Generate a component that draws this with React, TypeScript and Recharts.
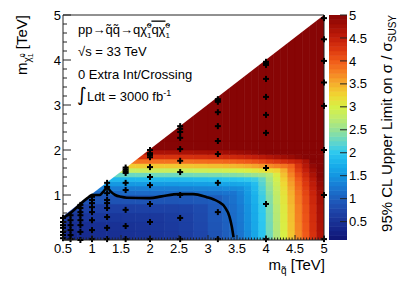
import React from 'react';
import { ComposedChart, XAxis, YAxis, ReferenceArea, Line, Scatter, Area } from 'recharts';

const W = 399;
const H = 286;
// axes are 1px thick so the plot area is 63..324 x 15..240
const PLOT_MARGIN = { top: 14, right: 74, bottom: 45, left: 62 };
const HEAT_MARGIN = { top: 15, right: 75, bottom: 46, left: 63 };
const BAR_MARGIN = { top: 15, right: 51, bottom: 46, left: 329 };
const FONT = '"Liberation Sans", Arial, Helvetica, sans-serif';

// ---- heat map grid (cell edges, TeV) ----
const xEdges = [0.5, 0.75, 1.0, 1.25, 1.5, 1.75, 2.0, 2.25, 2.5, 2.75, 3.0, 3.25, 3.375, 3.5, 3.625, 3.75, 3.875, 4.0, 4.125, 4.25, 4.375, 4.5, 4.625, 4.75, 4.875, 5.0];
const yEdges = [0, 0.2, 0.4, 0.6, 0.8, 1.0, 1.1, 1.2, 1.3, 1.4, 1.5, 1.6, 1.7, 1.8, 1.9, 2.0, 2.2, 5.0];
const N = null;
// upper limit on sigma/sigma_SUSY per cell (rows bottom -> top)
const heatValues: (number | null)[][] = [
  [0.38, 0.41, 0.44, 0.46, 0.48, 0.51, 0.54, 0.58, 0.64, 0.74, 0.88, 0.99, 1.08, 1.21, 1.41, 1.66, 1.96, 2.31, 2.66, 3.01, 3.36, 3.71, 4.01, 4.31, 4.66],
  [0.44, 0.45, 0.46, 0.48, 0.50, 0.53, 0.56, 0.60, 0.66, 0.76, 0.90, 1.01, 1.10, 1.23, 1.43, 1.68, 1.98, 2.33, 2.68, 3.03, 3.38, 3.73, 4.03, 4.33, 4.68],
  [0.54, 0.55, 0.56, 0.56, 0.56, 0.57, 0.58, 0.62, 0.68, 0.78, 0.92, 1.03, 1.12, 1.25, 1.45, 1.70, 2.00, 2.35, 2.70, 3.05, 3.40, 3.75, 4.05, 4.35, 4.70],
  [0.66, 0.67, 0.68, 0.68, 0.68, 0.69, 0.70, 0.70, 0.72, 0.80, 0.94, 1.05, 1.14, 1.27, 1.47, 1.72, 2.02, 2.37, 2.72, 3.07, 3.42, 3.77, 4.07, 4.37, 4.72],
  [N, 0.87, 0.88, 0.88, 0.88, 0.89, 0.90, 0.90, 0.92, 0.94, 0.98, 1.09, 1.18, 1.31, 1.51, 1.76, 2.06, 2.41, 2.76, 3.11, 3.46, 3.81, 4.11, 4.41, 4.76],
  [N, 1.09, 1.10, 1.10, 1.10, 1.11, 1.12, 1.12, 1.14, 1.16, 1.18, 1.21, 1.22, 1.35, 1.55, 1.80, 2.10, 2.45, 2.80, 3.15, 3.50, 3.85, 4.15, 4.45, 4.80],
  [N, N, 1.28, 1.28, 1.28, 1.29, 1.30, 1.30, 1.32, 1.34, 1.36, 1.39, 1.40, 1.43, 1.59, 1.84, 2.14, 2.49, 2.84, 3.19, 3.54, 3.89, 4.19, 4.49, 4.84],
  [N, N, 1.53, 1.53, 1.53, 1.54, 1.55, 1.55, 1.57, 1.59, 1.61, 1.64, 1.65, 1.68, 1.72, 1.89, 2.19, 2.54, 2.89, 3.24, 3.59, 3.94, 4.24, 4.54, 4.89],
  [N, N, N, 1.83, 1.83, 1.84, 1.85, 1.85, 1.87, 1.89, 1.91, 1.94, 1.95, 1.98, 2.02, 2.07, 2.25, 2.60, 2.95, 3.30, 3.65, 4.00, 4.30, 4.60, 4.95],
  [N, N, N, 2.28, 2.28, 2.29, 2.30, 2.30, 2.32, 2.34, 2.36, 2.39, 2.40, 2.43, 2.47, 2.52, 2.58, 2.69, 3.04, 3.39, 3.74, 4.09, 4.39, 4.69, 5.0],
  [N, N, N, 2.83, 2.83, 2.84, 2.85, 2.85, 2.87, 2.89, 2.91, 2.94, 2.95, 2.98, 3.02, 3.07, 3.13, 3.20, 3.27, 3.50, 3.85, 4.20, 4.50, 4.80, 5.0],
  [N, N, N, N, 3.33, 3.34, 3.35, 3.35, 3.37, 3.39, 3.41, 3.44, 3.45, 3.48, 3.52, 3.57, 3.63, 3.70, 3.77, 3.84, 3.95, 4.30, 4.60, 4.90, 5.0],
  [N, N, N, N, 3.83, 3.84, 3.85, 3.85, 3.87, 3.89, 3.91, 3.94, 3.95, 3.98, 4.02, 4.07, 4.13, 4.20, 4.27, 4.34, 4.41, 4.48, 4.70, 5.0, 5.0],
  [N, N, N, N, N, 4.29, 4.30, 4.30, 4.32, 4.34, 4.36, 4.39, 4.40, 4.43, 4.47, 4.52, 4.58, 4.65, 4.72, 4.79, 4.86, 4.93, 5.0, 5.0, 5.0],
  [N, N, N, N, N, 4.69, 4.70, 4.70, 4.72, 4.74, 4.76, 4.79, 4.80, 4.83, 4.87, 4.92, 4.98, 5.0, 5.0, 5.0, 5.0, 5.0, 5.0, 5.0, 5.0],
  [N, N, N, N, N, 5.0, 5.0, 5.0, 5.0, 5.0, 5.0, 5.0, 5.0, 5.0, 5.0, 5.0, 5.0, 5.0, 5.0, 5.0, 5.0, 5.0, 5.0, 5.0, 5.0],
  [N, N, N, N, N, N, 5.0, 5.0, 5.0, 5.0, 5.0, 5.0, 5.0, 5.0, 5.0, 5.0, 5.0, 5.0, 5.0, 5.0, 5.0, 5.0, 5.0, 5.0, 5.0],
];

// kinematic boundary (no signal points above it)
const boundaryX = [0.5, 5.0];
const boundaryY = [0.53, 5.0];

// observed exclusion contour (limit = 1)
const contourX = [0.52, 0.65, 0.79, 0.92, 1.0, 1.13, 1.2, 1.26, 1.32, 1.4, 1.5, 1.6, 2.0, 2.2, 2.5, 2.75, 2.98, 3.1, 3.18, 3.29, 3.37, 3.41, 3.44];
const contourY = [0.5, 0.62, 0.79, 0.93, 1.0, 1.0, 1.08, 1.17, 1.08, 1.0, 0.96, 0.94, 0.93, 0.97, 1.02, 1.02, 0.95, 0.9, 0.85, 0.73, 0.52, 0.3, 0.06];

// signal grid points
const pointColumnsX = [0.5, 0.63, 0.8, 1.0, 1.26, 1.58, 2.0, 2.52, 3.17, 4.0, 5.0];
const pointColumnsY = [
  [0.04, 0.11, 0.18, 0.27, 0.33, 0.4, 0.49],
  [0.02, 0.11, 0.22, 0.33, 0.44, 0.55],
  [0.0, 0.18, 0.33, 0.44, 0.55, 0.62, 0.71, 0.78],
  [0.02, 0.22, 0.44, 0.62, 0.73, 0.82, 0.89, 0.96],
  [0.02, 0.27, 0.51, 0.71, 0.82, 0.89, 1.04, 1.18, 1.27],
  [0.02, 0.31, 0.67, 1.11, 1.27, 1.49, 1.53, 1.57, 1.61],
  [0.02, 0.4, 0.8, 1.22, 1.4, 1.62, 1.84, 1.89, 1.93, 2.0],
  [0.02, 0.49, 1.0, 1.51, 1.76, 2.02, 2.27, 2.4, 2.47, 2.53],
  [0.02, 0.62, 1.27, 1.91, 2.2, 2.53, 2.84, 3.07, 3.1, 3.13],
  [0.02, 0.8, 1.6, 2.38, 2.78, 3.18, 3.58, 3.89, 3.93, 3.96],
  [0.02, 1.0, 2.0, 2.98, 3.5, 3.98, 4.46, 4.93],
];

// axis ticks
const xMajorTicks = [0.5, 1, 1.5, 2, 2.5, 3, 3.5, 4, 4.5, 5];
const yMajorTicks = [0, 1, 2, 3, 4, 5];
const yLabelTicks = [1, 2, 3, 4, 5];
const zTicks = [0.5, 1, 1.5, 2, 2.5, 3, 3.5, 4, 4.5, 5];
const zRange = [0.1, 5];

// colour palette
const paletteValues = [0.1, 0.3, 0.5, 0.75, 1.0, 1.25, 1.5, 1.75, 2.0, 2.25, 2.5, 2.75, 3.0, 3.25, 3.5, 3.75, 4.0, 4.25, 4.5, 4.75, 5.0];
const paletteColors = [
  [15, 20, 115], [20, 35, 135], [25, 50, 150], [30, 70, 170], [30, 95, 190],
  [25, 120, 210], [20, 150, 225], [25, 175, 235], [45, 200, 240], [100, 215, 200],
  [150, 225, 150], [190, 235, 110], [215, 240, 70], [240, 215, 50], [245, 175, 45],
  [245, 130, 35], [240, 90, 25], [220, 55, 15], [195, 30, 10], [165, 15, 5], [135, 5, 5],
];

function colorFor(v: number): string {
  const t = Math.max(paletteValues[0], Math.min(paletteValues[paletteValues.length - 1], v));
  let i = 0;
  while (i < paletteValues.length - 2 && t > paletteValues[i + 1]) i++;
  const a = paletteValues[i];
  const b = paletteValues[i + 1];
  const f = (t - a) / (b - a);
  const c0 = paletteColors[i];
  const c1 = paletteColors[i + 1];
  const c = c0.map((ch, k) => Math.round(ch + (c1[k] - ch) * f));
  return `rgb(${c[0]},${c[1]},${c[2]})`;
}

const heatCells: { x1: number; x2: number; y1: number; y2: number; color: string }[] = [];
heatValues.forEach((row, r) => {
  row.forEach((v, c) => {
    if (v === null) return;
    heatCells.push({ x1: xEdges[c], x2: xEdges[c + 1], y1: yEdges[r], y2: yEdges[r + 1], color: colorFor(v) });
  });
});

const maskData = boundaryX.map((x, i) => ({ x, y: boundaryY[i] }));
const contourData = contourX.map((x, i) => ({ x, y: contourY[i] }));
const pointData: { x: number; y: number }[] = [];
pointColumnsX.forEach((x, i) => pointColumnsY[i].forEach((y) => pointData.push({ x, y })));

const xTicks: number[] = [];
for (let i = 10; i <= 100; i++) xTicks.push(i / 20);
const yTicks: number[] = [];
for (let i = 0; i <= 25; i++) yTicks.push(i / 5);

const colorBands: { lo: number; hi: number; color: string }[] = [];
for (let i = 0; i < 50; i++) {
  const lo = zRange[0] + (i * (zRange[1] - zRange[0])) / 50;
  const hi = zRange[0] + ((i + 1) * (zRange[1] - zRange[0])) / 50;
  colorBands.push({ lo, hi, color: colorFor((lo + hi) / 2) });
}

const near = (a: number, list: number[]) => list.some((b) => Math.abs(a - b) < 1e-6);
const fmt = (v: number) => String(Math.round(v * 10) / 10);
const AX = '#222';

const XTickBottom = (props: any) => {
  const { x, y, payload } = props;
  const v = payload.value;
  const major = near(v, xMajorTicks);
  return (
    <g>
      <line x1={x} x2={x} y1={y} y2={y - (major ? 5 : 2.5)} stroke={AX} strokeWidth={1} />
      {major && (
        <text x={x} y={y + 13} textAnchor="middle" fontSize={13} fontFamily={FONT} fill="#000">
          {fmt(v)}
        </text>
      )}
    </g>
  );
};
const XTickTop = (props: any) => {
  const { x, y, payload } = props;
  const major = near(payload.value, xMajorTicks);
  return <line x1={x} x2={x} y1={y} y2={y + (major ? 5 : 2.5)} stroke={AX} strokeWidth={1} />;
};
const YTickLeft = (props: any) => {
  const { x, y, payload } = props;
  const v = payload.value;
  const major = near(v, yMajorTicks);
  return (
    <g>
      <line x1={x} x2={x + (major ? 8 : 4)} y1={y} y2={y} stroke={AX} strokeWidth={1} />
      {near(v, yLabelTicks) && (
        <text x={x - 2} y={y + 4.6} textAnchor="end" fontSize={13} fontFamily={FONT} fill="#000">
          {fmt(v)}
        </text>
      )}
    </g>
  );
};
const YTickRight = (props: any) => {
  const { x, y, payload } = props;
  const major = near(payload.value, yMajorTicks);
  return <line x1={x} x2={x - (major ? 8 : 4)} y1={y} y2={y} stroke={AX} strokeWidth={1} />;
};
const ZTick = (props: any) => {
  const { x, y, payload } = props;
  return (
    <g>
      <line x1={x} x2={x - 7} y1={y} y2={y} stroke={AX} strokeWidth={1} />
      <text x={x + 2} y={y + 4.6} textAnchor="start" fontSize={13} fontFamily={FONT} fill="#000">
        {fmt(payload.value)}
      </text>
    </g>
  );
};

const Cross = (props: any) => {
  const { cx, cy } = props;
  if (cx == null || cy == null) return null;
  return (
    <g>
      <rect x={cx - 3} y={cy - 1} width={6} height={2} fill="#000" />
      <rect x={cx - 1} y={cy - 3} width={2} height={6} fill="#000" />
    </g>
  );
};

const layer: React.CSSProperties = { position: 'absolute', left: 0, top: 0, width: W, height: H };

export default function App() {
  return (
    <div style={{ position: 'absolute', left: 0, top: 0, width: W, height: H, background: '#fff', overflow: 'hidden' }}>
      {/* heat map cells */}
      <div style={layer}>
        <ComposedChart width={W} height={H} margin={HEAT_MARGIN}>
          <XAxis type="number" dataKey="x" domain={[0.5, 5]} allowDataOverflow hide />
          <YAxis type="number" domain={[0, 5]} allowDataOverflow hide />
          {heatCells.map((c, i) => (
            <ReferenceArea
              key={i}
              x1={c.x1}
              x2={c.x2}
              y1={c.y1}
              y2={c.y2}
              fill={c.color}
              fillOpacity={1}
              stroke={c.color}
              strokeWidth={0.6}
              ifOverflow="hidden"
            />
          ))}
        </ComposedChart>
      </div>
      {/* colour bar */}
      <div style={layer}>
        <ComposedChart width={W} height={H} margin={BAR_MARGIN}>
          <XAxis type="number" dataKey="x" domain={[0, 1]} allowDataOverflow hide />
          <YAxis
            type="number"
            orientation="right"
            domain={zRange}
            allowDataOverflow
            ticks={zTicks}
            interval={0}
            tick={<ZTick />}
            tickLine={false}
            axisLine={false}
            tickSize={0}
            tickMargin={0}
            width={1}
          />
          {colorBands.map((b, i) => (
            <ReferenceArea
              key={i}
              x1={0}
              x2={1}
              y1={b.lo}
              y2={b.hi}
              fill={b.color}
              fillOpacity={1}
              stroke={b.color}
              strokeWidth={0.6}
              ifOverflow="hidden"
            />
          ))}
        </ComposedChart>
      </div>
      {/* mask, contour, points and frame */}
      <div style={layer}>
        <ComposedChart width={W} height={H} margin={PLOT_MARGIN}>
          <XAxis
            xAxisId="b"
            type="number"
            dataKey="x"
            domain={[0.5, 5]}
            ticks={xTicks}
            interval={0}
            tick={<XTickBottom />}
            tickLine={false}
            tickSize={0}
            tickMargin={0}
            height={1}
            axisLine={{ stroke: AX }}
          />
          <XAxis
            xAxisId="t"
            orientation="top"
            type="number"
            dataKey="x"
            domain={[0.5, 5]}
            ticks={xTicks}
            interval={0}
            tick={<XTickTop />}
            tickLine={false}
            tickSize={0}
            tickMargin={0}
            height={1}
            axisLine={{ stroke: AX }}
          />
          <YAxis
            yAxisId="l"
            type="number"
            domain={[0, 5]}
            ticks={yTicks}
            interval={0}
            tick={<YTickLeft />}
            tickLine={false}
            tickSize={0}
            tickMargin={0}
            width={1}
            axisLine={{ stroke: AX }}
          />
          <YAxis
            yAxisId="r"
            orientation="right"
            type="number"
            domain={[0, 5]}
            ticks={yTicks}
            interval={0}
            tick={<YTickRight />}
            tickLine={false}
            tickSize={0}
            tickMargin={0}
            width={1}
            axisLine={{ stroke: AX }}
          />
          <Area
            xAxisId="b"
            yAxisId="l"
            data={maskData}
            dataKey="y"
            type="linear"
            baseValue={5}
            fill="#ffffff"
            fillOpacity={1}
            stroke="none"
            isAnimationActive={false}
          />
          <Line
            xAxisId="b"
            yAxisId="l"
            data={contourData}
            dataKey="y"
            type="monotone"
            stroke="#000"
            strokeWidth={2.6}
            dot={false}
            activeDot={false}
            isAnimationActive={false}
          />
          <Scatter xAxisId="b" yAxisId="l" data={pointData} dataKey="y" shape={Cross} isAnimationActive={false} />
        </ComposedChart>
      </div>
      {/* titles and annotations */}
      <svg width={W} height={H} style={{ ...layer, pointerEvents: 'none' }} fontFamily={FONT} fill="#000">
        <text x={78} y={33.5} fontSize={13}>
          pp→q̃q̃→qχ̃
          <tspan fontSize={8} dy={-6}>0</tspan>
          <tspan fontSize={8} dx={-4.5} dy={10}>1</tspan>
          <tspan dy={-4} style={{ textDecoration: 'overline' }}>qχ̃</tspan>
          <tspan fontSize={8} dy={-6}>0</tspan>
          <tspan fontSize={8} dx={-4.5} dy={10}>1</tspan>
        </text>
        <text x={78} y={56} fontSize={13}>√s = 33 TeV</text>
        <text x={78} y={79} fontSize={13}>0 Extra Int/Crossing</text>
        <text x={77} y={101} fontSize={13}>
          <tspan fontSize={19} fontFamily="DejaVu Sans">∫</tspan>
          <tspan>Ldt = 3000 fb</tspan>
          <tspan fontSize={9} dy={-5}>-1</tspan>
        </text>
        <text x={325} y={270} fontSize={15} textAnchor="end">
          m<tspan fontSize={10} dy={4}>q̃</tspan>
          <tspan fontSize={15} dy={-4}> [TeV]</tspan>
        </text>
        <text x={27} y={15} fontSize={15} textAnchor="end" transform="rotate(-90 27 15)">
          m<tspan fontSize={10} dy={4}>χ̃</tspan>
          <tspan fontSize={7} dy={2}>1</tspan>
          <tspan fontSize={7} dx={-4} dy={-8}>0</tspan>
          <tspan fontSize={15} dy={2}> [TeV]</tspan>
        </text>
        <text x={392} y={15} fontSize={15} textAnchor="end" transform="rotate(-90 392 15)">
          95% CL Upper Limit on σ / σ<tspan fontSize={10} dy={4}>SUSY</tspan>
        </text>
      </svg>
    </div>
  );
}
